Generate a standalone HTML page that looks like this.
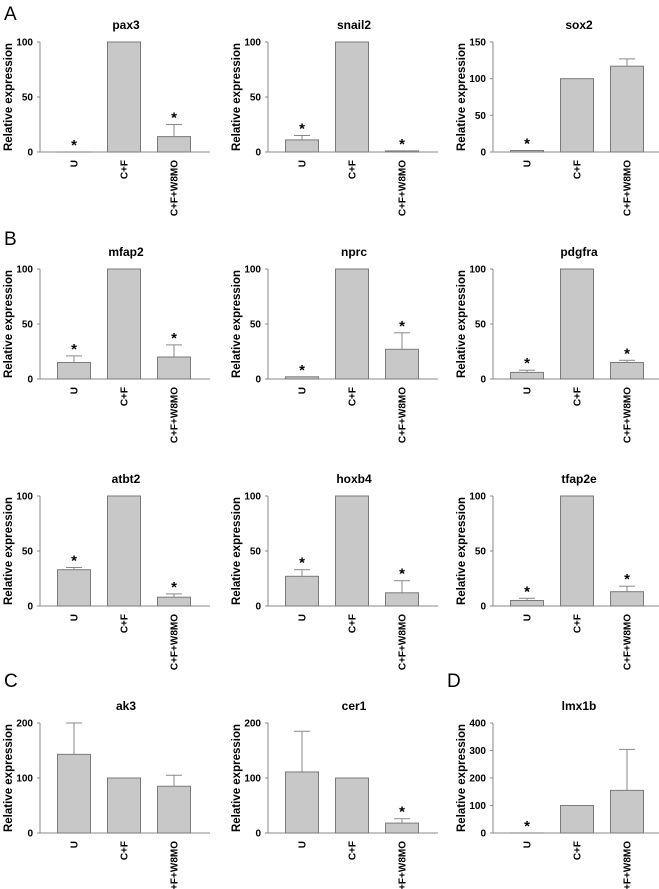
<!DOCTYPE html>
<html><head><meta charset="utf-8"><style>
body{margin:0;background:#fff;}
svg{display:block;font-family:"Liberation Sans",Arial,sans-serif;}
</style></head><body>
<svg id="fig" width="659" height="889" viewBox="0 0 659 889" xmlns="http://www.w3.org/2000/svg">
<text x="4" y="20" font-size="19">A</text>
<text x="4" y="245" font-size="19">B</text>
<text x="4" y="687" font-size="19">C</text>
<text x="447" y="687" font-size="19">D</text>
</svg>
<script>
const categories = ["U", "C+F", "C+F+W8MO"];
const genes = ["pax3","snail2","sox2","mfap2","nprc","pdgfra","atbt2","hoxb4","tfap2e","ak3","cer1","lmx1b"];
const yMaxes = [100,100,150,100,100,100,100,100,100,200,200,400];
const tickSteps = [50,50,50,50,50,50,50,50,50,100,100,100];
const meanU = [0,11,2,15,2,6,33,27,5,143,111,0];
const meanCF = [100,100,100,100,100,100,100,100,100,100,100,100];
const meanW = [14,1,117,20,27,15,8,12,13,85,18,155];
const errU = [0,4,0,6,0,2,2,6,2,57,74,0];
const errCF = [0,0,0,0,0,0,0,0,0,0,0,0];
const errW = [11,0,10,11,15,2,3,11,5,20,8,149];
const starU = [1,1,1,1,1,1,1,1,1,0,0,1];
const starCF = [0,0,0,0,0,0,0,0,0,0,0,0];
const starW = [1,1,0,1,1,1,1,1,1,0,1,0];

const NS="http://www.w3.org/2000/svg";
const svg=document.getElementById('fig');
const axisXs=[40,268,493];
const rowBases=[152,379,606,833];
const H=110;
function mk(tag,attrs,parent){const e=document.createElementNS(NS,tag);for(const k in attrs)e.setAttribute(k,attrs[k]);(parent||svg).appendChild(e);return e;}

genes.forEach((g,i)=>{
  let row,col;
  if(i<3){row=0;col=i;}else if(i<9){row=1+Math.floor((i-3)/3);col=(i-3)%3;}else{row=3;col=i-9;}
  const ax=axisXs[col], y0=rowBases[row];
  const grp=mk('g',{});
  
  
  const ymax=yMaxes[i];
  const ys=v=>y0-v/ymax*H;
  const t=mk('text',{x:ax+86,y:y0-H-13,'font-size':12,'font-weight':'bold','text-anchor':'middle'},grp);
  t.textContent=g;
  
  
  const yl=mk('text',{transform:`translate(${ax-28},${y0-H/2}) rotate(-90)`,'font-size':11.5,'font-weight':'bold','text-anchor':'middle'},grp);
  yl.textContent='Relative expression';
  
  
  const ya=mk('line',{x1:ax,y1:y0,x2:ax,y2:y0-H,stroke:'#888','stroke-width':1},grp);
  
  
  const xa=mk('line',{x1:ax-3,y1:y0,x2:ax+170,y2:y0,stroke:'#888','stroke-width':1},grp);
  
  
  for(let v=0;v<=ymax;v+=tickSteps[i]){
    mk('line',{x1:ax-3,y1:ys(v),x2:ax,y2:ys(v),stroke:'#888'},grp);
    const tl=mk('text',{x:ax-7,y:ys(v)+3.5,'font-size':10,'font-weight':'bold','text-anchor':'end'},grp);
    tl.textContent=v;
    
    
  }
  const means=[meanU[i],meanCF[i],meanW[i]];
  const errs=[errU[i],errCF[i],errW[i]];
  const stars=[starU[i],starCF[i],starW[i]];
  categories.forEach((c,j)=>{
    const cx=ax+34+50*j;
    const v=means[j];
    const b=mk('rect',{x:cx-16.5,y:ys(v),width:33,height:Math.max(y0-ys(v),0.01),fill:'#c8c8c8',stroke:'#7a7a7a','stroke-width':1},grp);
    
    
    let top=ys(v);
    if(errs[j]>0){
      const et=ys(v+errs[j]);
      mk('line',{x1:cx,y1:ys(v),x2:cx,y2:et,stroke:'#888'},grp);
      mk('line',{x1:cx-8,y1:et,x2:cx+8,y2:et,stroke:'#888'},grp);
      top=et;
    }
    if(stars[j]){
      const s=mk('text',{x:cx,y:top-2,'font-size':15,'font-weight':'bold','text-anchor':'middle'},grp);
      s.textContent='*';
      
      
    }
    const xl=mk('text',{transform:`translate(${cx+3.5},${y0+8}) rotate(-90)`,'font-size':10,'font-weight':'bold','text-anchor':'end'},grp);
    xl.textContent=c;
    
    
  });
});
</script>
</body></html>
